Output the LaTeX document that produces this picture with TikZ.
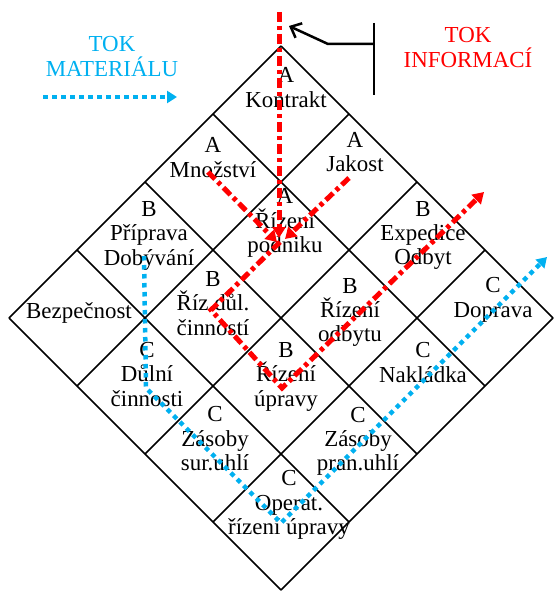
\documentclass[tikz,border=0pt]{standalone}
\usepackage{fontspec}
\setmainfont{Liberation Serif}
\usepackage{xcolor}
\usepackage{tikz}
\usetikzlibrary{
    arrows.meta
}

\definecolor{matblue}{RGB}{0,176,240}

\begin{document}
\begin{tikzpicture}[
    x=1bp,
    y=-1bp,
    cell/.style={
        align=center,
        inner sep=0pt,
        font=\fontsize{23}{24.5}\selectfont
    },
    gridline/.style={
        black,
        line width=1.5bp
    },
    infoflow/.style={
        red,
        line width=5bp,
        dash pattern=on 10bp off 4bp on 4bp off 4bp
    },
    matflow/.style={
        matblue,
        line width=4.5bp,
        dash pattern=on 4.5bp off 4.5bp
    },
    infotip/.style={
        -{Triangle[length=11bp,width=13bp]}
    },
    mattip/.style={
        -{Triangle[length=10bp,width=12bp]}
    }
]

\useasboundingbox (0,0) rectangle (554,592);

% ============================================================
% DIAMOND GRID
% ============================================================

\foreach \k in {0,...,4} {
    \draw[gridline]
        (281-68*\k,46+68*\k) -- ++(272,272);
    \draw[gridline]
        (281+68*\k,46+68*\k) -- ++(-272,272);
}

% ============================================================
% CELLS
% ============================================================

\node[cell] (kontrakt)   at (286,87.4)  {A\\Kontrakt};
\node[cell] (mnozstvi)   at (213,157.4) {A\\Množství};
\node[cell] (jakost)     at (355,151.9) {A\\Jakost};
\node[cell] (rizpodnik)  at (285,222.9) {A\\Řízení\\podniku};
\node[cell] (priprava)   at (149,235.9) {B\\Příprava\\Dobývání};
\node[cell] (expedice)   at (423,235.4) {B\\Expedice\\Odbyt};
\node[cell] (bezpecnost) at (79,312.8)  {Bezpečnost};
\node[cell] (rizdul)     at (213,303.4) {B\\Říz.důl.\\činností};
\node[cell] (rizodbyt)   at (350,312.4) {B\\Řízení\\odbytu};
\node[cell] (doprava)    at (493,299.9) {C\\Doprava};
\node[cell] (dulni)      at (147,374.4) {C\\Důlní\\činnosti};
\node[cell] (rizupravy)  at (286,376.9) {B\\Řízení\\úpravy};
\node[cell] (nakladka)   at (423,362.4) {C\\Nakládka};
\node[cell] (zasobysur)  at (215,438.9) {C\\Zásoby\\sur.uhlí};
\node[cell] (zasobypran) at (358,441.4) {C\\Zásoby\\pran.uhlí};
\node[cell] (operat)     at (289,504.9) {C\\Operat.\\řízení úpravy};

% ============================================================
% LEGEND
% ============================================================

\node[cell, text=matblue] (tokmat) at (112,56.4) {TOK\\MATERIÁLU};
\node[cell, text=red]     (tokinf) at (468,47.4) {TOK\\INFORMACÍ};

\coordinate (legA) at (43,97);
\coordinate (legB) at (177,97);

\draw[matflow, mattip]
    (legA) -- (legB);

% Pointer to the information flow
\coordinate (bartop)  at (374,23);
\coordinate (barbot)  at (374,95);
\coordinate (barjoin) at (374,44);
\coordinate (barkink) at (328,44);
\coordinate (pointer) at (289,26);

\draw[black, line width=2.5bp]
    (bartop) -- (barbot);

\draw[
    black,
    line width=2.5bp,
    -{Straight Barb[length=9bp,width=16bp]}
]
    (barjoin) -- (barkink) -- (pointer);

% ============================================================
% INFORMATION FLOW
% ============================================================

\coordinate (infotop)   at (279,12);
\coordinate (infoleft)  at (208,172);
\coordinate (inforight) at (349,178);
\coordinate (hubN)      at (279,238);
\coordinate (hubW)      at (277,242);
\coordinate (hubE)      at (285,239);
\coordinate (infohub)   at (280,242);
\coordinate (rizcorner) at (211,310);
\coordinate (upcorner)  at (282,388);
\coordinate (infoend)   at (484,192);

\draw[infoflow, infotip]
    (infotop) -- (hubN);

\draw[infoflow, infotip]
    (infoleft) -- (hubW);

\draw[infoflow, infotip]
    (inforight) -- (hubE);

\draw[infoflow, infotip]
    (infohub) -- (rizcorner) -- (upcorner) -- (infoend);

% ============================================================
% MATERIAL FLOW
% ============================================================

\coordinate (matstart) at (144,256);
\coordinate (matbend)  at (146,388);
\coordinate (matlow)   at (281,523);
\coordinate (matend)   at (547,257);

\draw[matflow, mattip]
    (matstart) -- (matbend) -- (matlow) -- (matend);

\end{tikzpicture}
\end{document}
